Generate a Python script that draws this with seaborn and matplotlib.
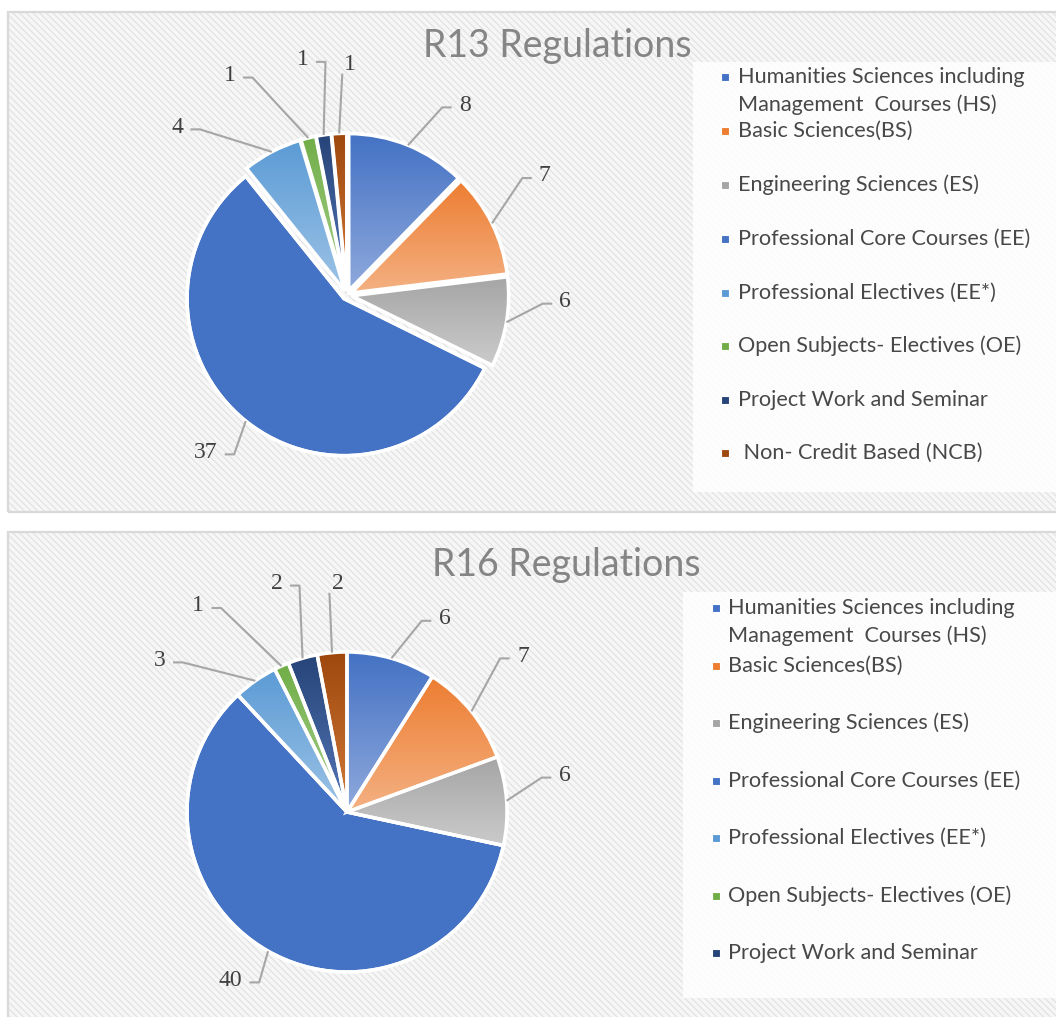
import numpy as np
import matplotlib
matplotlib.use("Agg")
import matplotlib.pyplot as plt
import matplotlib.patches as mpatches
from matplotlib.colors import LinearSegmentedColormap
import seaborn as sns

# ---- data -------------------------------------------------------------
categories = [
    "Humanities Sciences including\nManagement  Courses (HS)",
    "Basic Sciences(BS)",
    "Engineering Sciences (ES)",
    "Professional Core Courses (EE)",
    "Professional Electives (EE*)",
    "Open Subjects- Electives (OE)",
    "Project Work and Seminar",
    " Non- Credit Based (NCB)",
]
r13_values = [8, 7, 6, 37, 4, 1, 1, 1]
r16_values = [6, 7, 6, 40, 3, 1, 2, 2]
titles = ["R13 Regulations", "R16 Regulations"]

# ---- styling ----------------------------------------------------------
dark = ["#4472C4", "#ED7D31", "#A5A5A5", "#4472C4", "#5B9BD5", "#70AD47", "#264478", "#9E480E"]
light = ["#8FA9DC", "#F4B183", "#CBCBCB", "#4472C4", "#9DC3E6", "#A9D18E", "#5577B8", "#D27A3A"]

sns.set_theme(style="white")
plt.rcParams["font.family"] = ["Lato", "DejaVu Sans"]
plt.rcParams["hatch.linewidth"] = 0.7

W, H = 1056, 1017
fig = plt.figure(figsize=(W / 100, H / 100), dpi=100)
fig.patch.set_facecolor("white")


def fx(px):
    return px / W


def fy(py):
    return 1 - py / H


# layout of each panel (pixel units)
panels = [
    dict(values=r13_values, title=titles[0], box=(8, 12, 1060, 512), title_xy=(557, 46),
         center=(347, 295), radius=157, explode=0.03,
         label_pos=[(0.75, 1.21), (1.26, 0.76), (1.39, -0.04), (-0.90, -1.0),
                    (-1.08, 1.07), (-0.745, 1.40), (-0.28, 1.50), (0.02, 1.47)],
         legend_box=(693, 62, 1060, 492), legend_sq_x=725, legend_txt_x=738,
         legend_rows=[77, 131, 185, 239, 293, 346, 400, 453], n_legend=8),
    dict(values=r16_values, title=titles[1], box=(8, 532, 1060, 1030), title_xy=(566, 565),
         center=(347, 812), radius=160, explode=0.0,
         label_pos=[(0.61, 1.21), (1.10, 0.975), (1.36, 0.23), (-0.73, -1.05),
                    (-1.17, 0.95), (-0.93, 1.29), (-0.44, 1.43), (-0.06, 1.43)],
         legend_box=(683, 592, 1060, 998), legend_sq_x=716, legend_txt_x=728,
         legend_rows=[608, 666, 723, 781, 838, 896, 953], n_legend=7),
]

for p in panels:
    x0, y0, x1, y1 = p["box"]
    # hatched panel background
    fig.patches.append(mpatches.Rectangle(
        (fx(x0), fy(y1)), fx(x1) - fx(x0), fy(y0) - fy(y1), transform=fig.transFigure,
        facecolor="#F6F6F6", edgecolor="#DEDEDE", hatch="\\\\\\\\\\", linewidth=0, zorder=0))
    fig.patches.append(mpatches.Rectangle(
        (fx(x0), fy(y1)), fx(x1) - fx(x0), fy(y0) - fy(y1), transform=fig.transFigure,
        facecolor="none", edgecolor="#D9D9D9", linewidth=1.6, zorder=1))

    # legend area
    lx0, ly0, lx1, ly1 = p["legend_box"]
    fig.patches.append(mpatches.Rectangle(
        (fx(lx0), fy(ly1)), fx(lx1) - fx(lx0), fy(ly0) - fy(ly1), transform=fig.transFigure,
        facecolor="white", alpha=0.85, edgecolor="none", zorder=2))

    fig.text(fx(p["title_xy"][0]), fy(p["title_xy"][1]), p["title"], ha="center", va="center",
             fontsize=27, color="#858585", zorder=5)

    # pie axes: radius 1 maps to p["radius"] pixels
    cx, cy = p["center"]
    r = p["radius"]
    hs = 240
    ax = fig.add_axes([fx(cx - hs), fy(cy + hs), 2 * hs / W, 2 * hs / H])
    ax.set_zorder(3)
    values = p["values"]
    wedges, _ = ax.pie(values, colors=dark[:len(values)], startangle=90, counterclock=False,
                       explode=[p["explode"]] * len(values), radius=1.0,
                       wedgeprops=dict(edgecolor="white", linewidth=2.5))

    # vertical gradient fill inside each slice
    for i, w in enumerate(wedges):
        if dark[i] != light[i]:
            ext = w.get_path().get_extents()
            cmap = LinearSegmentedColormap.from_list(f"g{i}", [light[i], dark[i]])
            grad = np.linspace(0, 1, 256).reshape(-1, 1)
            im = ax.imshow(grad, cmap=cmap, origin="lower", aspect="auto",
                           extent=[ext.x0, ext.x1, ext.y0, ext.y1],
                           interpolation="bilinear", zorder=w.get_zorder() + 0.1)
            im.set_clip_path(w)
        ax.add_patch(mpatches.PathPatch(w.get_path(), facecolor="none", edgecolor="white",
                                        linewidth=2.5, zorder=w.get_zorder() + 0.2))

    # data labels with leader lines
    for i, (w, v) in enumerate(zip(wedges, values)):
        mid = np.deg2rad((w.theta1 + w.theta2) / 2)
        ax_, ay_ = w.center[0] + np.cos(mid), w.center[1] + np.sin(mid)
        tx, ty = p["label_pos"][i]
        side = 1 if tx > ax_ else -1
        if abs(tx - ax_) < 0.1:
            # label straight above its slice: plain leader
            xs, ys = [ax_, tx - side * 0.05], [ay_, ty - 0.06]
        else:
            half = len(str(v)) * 0.038 + 0.045
            ex, ey = tx - side * half, ty - 0.015
            bx = ex - side * 0.06
            xs, ys = [ax_, bx, ex], [ay_, ey, ey]
        ax.plot(xs, ys, color="#A6A6A6", lw=1.5, solid_capstyle="butt",
                zorder=10, clip_on=False)
        ax.text(tx, ty, str(v), ha="center", va="center", fontsize=17,
                family="Liberation Serif", color="#404040", zorder=11, clip_on=False)

    lim = hs / r
    ax.set_xlim(-lim, lim)
    ax.set_ylim(-lim, lim)
    ax.set_aspect("equal")
    ax.axis("off")

    # legend entries
    for i in range(p["n_legend"]):
        yrow = p["legend_rows"][i]
        sq = 8
        fig.patches.append(mpatches.Rectangle(
            (fx(p["legend_sq_x"] - sq / 2), fy(yrow + sq / 2)), sq / W, sq / H,
            transform=fig.transFigure, facecolor=dark[i], edgecolor="white",
            linewidth=0.8, zorder=4))
        for k, line in enumerate(categories[i].split("\n")):
            fig.text(fx(p["legend_txt_x"]), fy(yrow + 28 * k), line, ha="left", va="center",
                     fontsize=15.6, color="#484848", zorder=5)

fig.savefig("out.png", dpi=100)
